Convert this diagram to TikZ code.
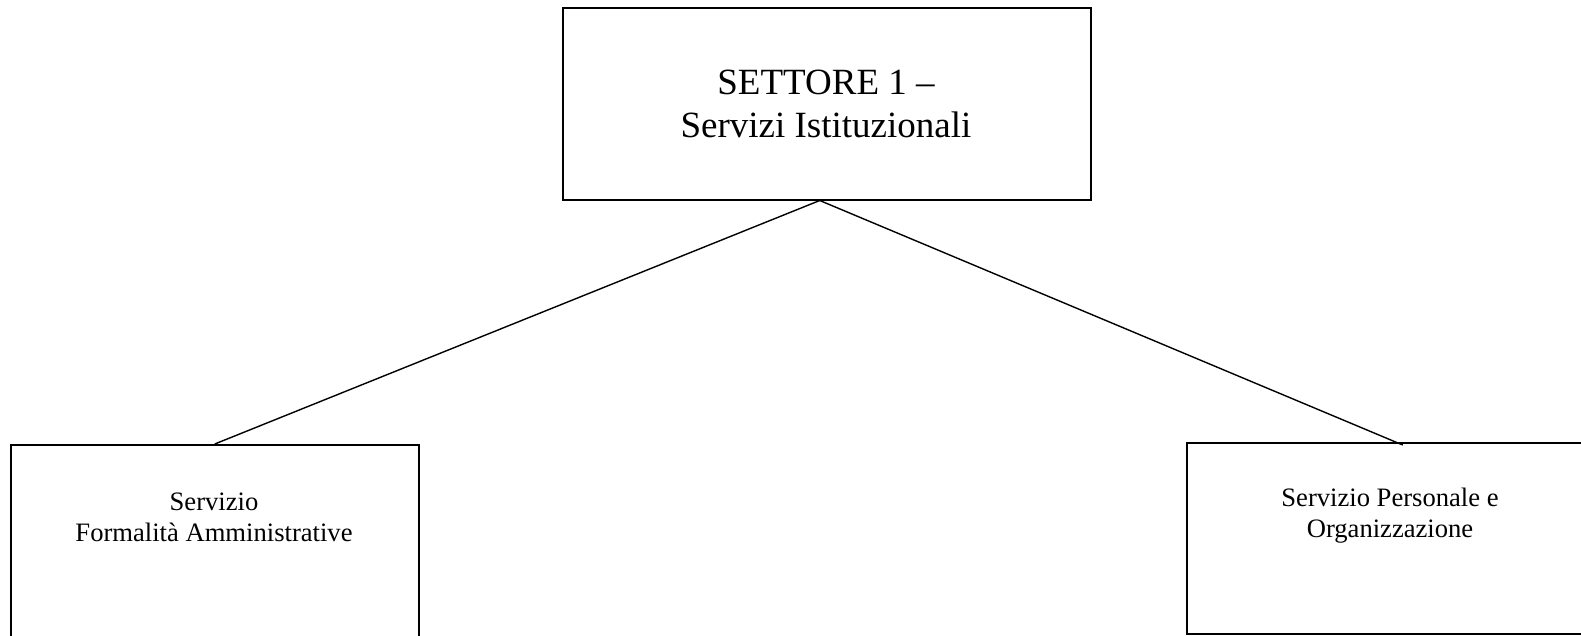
\documentclass[tikz,border=0pt]{standalone}
\usepackage{fontspec}
\setmainfont{Liberation Serif}
\usetikzlibrary{calc}
\begin{document}
\begin{tikzpicture}[x=1pt,y=-1pt,
  box/.style={draw=black,line width=1.5pt,rectangle,inner sep=0pt,anchor=north west},
  lbl/.style={align=center,inner sep=0pt},
  conn/.style={draw=black,line width=1.4pt}]
\useasboundingbox (0,0) rectangle (1581,635);
\node[box,minimum width=528pt,minimum height=192pt] (top) at (562,7) {};
\node[box,minimum width=408pt,minimum height=210pt] (left) at (10,444) {};
\node[box,minimum width=400pt,minimum height=191pt] (right) at (1186,442) {};
\node[lbl,font=\fontsize{37}{43}\selectfont] (toptxt) at (826,104) {SETTORE 1 –\\Servizi Istituzionali};
\node[lbl,font=\fontsize{26.6}{31}\selectfont] (lefttxt) at (214,517.5) {Servizio\\Formalità Amministrative};
\node[lbl,font=\fontsize{26.6}{31}\selectfont] (righttxt) at (1390,516) {Servizio Personale e\\Organizzazione};
\draw[conn] ($(top.south)+(-7,0)$) -- (left.north);
\draw[conn] ($(top.south)+(-7,0)$) -- ($(right.north)+(16,3)$);
\end{tikzpicture}
\end{document}
